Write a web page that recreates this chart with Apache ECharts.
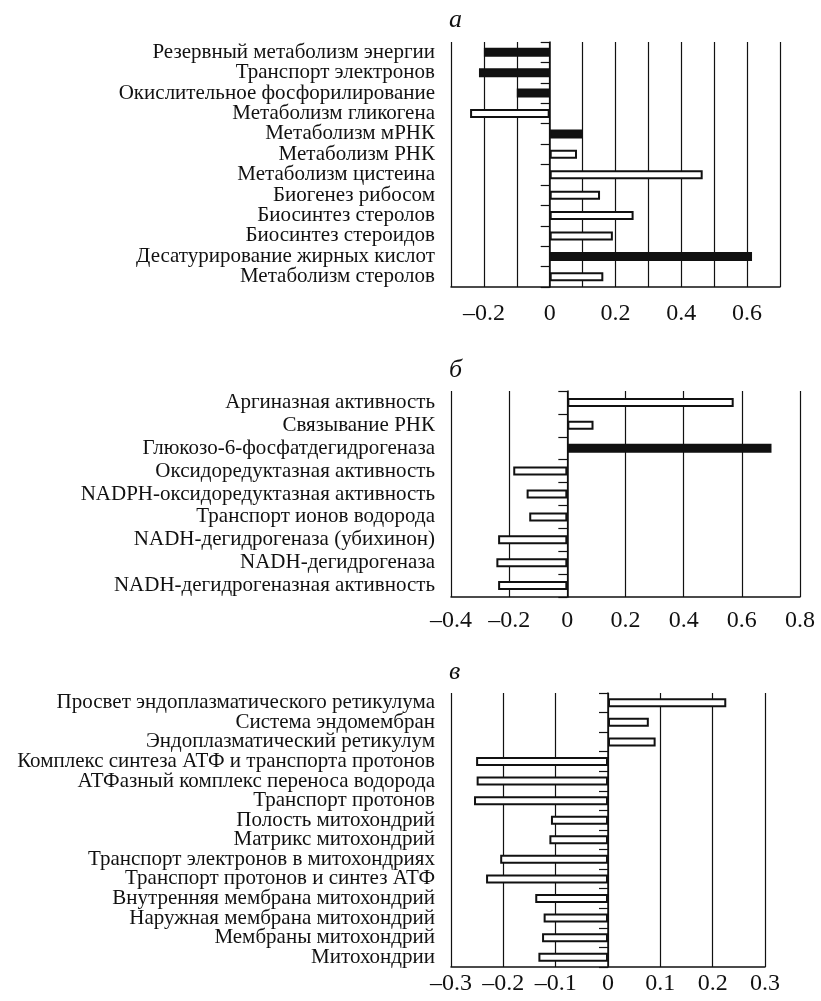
<!DOCTYPE html>
<html>
<head>
<meta charset="utf-8">
<title>Panels a, b, v</title>
<script src="https://cdn.jsdelivr.net/npm/echarts@6/dist/echarts.min.js"></script>
<style>
  html, body { margin: 0; padding: 0; background: #fff; }
  #chart { width: 821px; height: 1001px; }
</style>
</head>
<body>
<div id="chart"></div>
<script>
  // --- данные панели а ---
  var aNames = ['Резервный метаболизм энергии', 'Транспорт электронов', 'Окислительное фосфорилирование',
    'Метаболизм гликогена', 'Метаболизм мРНК', 'Метаболизм РНК', 'Метаболизм цистеина',
    'Биогенез рибосом', 'Биосинтез стеролов', 'Биосинтез стероидов',
    'Десатурирование жирных кислот', 'Метаболизм стеролов'];
  var aValues = [-0.20, -0.215, -0.10, -0.242, 0.10, 0.083, 0.465, 0.153, 0.255, 0.192, 0.615, 0.163];
  var aDark = [1, 1, 1, 0, 1, 0, 0, 0, 0, 0, 1, 0];

  // --- данные панели б ---
  var bNames = ['Аргиназная активность', 'Связывание РНК', 'Глюкозо-6-фосфатдегидрогеназа',
    'Оксидоредуктазная активность', 'NADPH-оксидоредуктазная активность', 'Транспорт ионов водорода',
    'NADH-дегидрогеназа (убихинон)', 'NADH-дегидрогеназа', 'NADH-дегидрогеназная активность'];
  var bValues = [0.572, 0.09, 0.702, -0.186, -0.14, -0.131, -0.238, -0.244, -0.238];
  var bDark = [0, 0, 1, 0, 0, 0, 0, 0, 0];

  // --- данные панели в ---
  var cNames = ['Просвет эндоплазматического ретикулума', 'Система эндомембран', 'Эндоплазматический ретикулум',
    'Комплекс синтеза АТФ и транспорта протонов', 'АТФазный комплекс переноса водорода', 'Транспорт протонов',
    'Полость митохондрий', 'Матрикс митохондрий', 'Транспорт электронов в митохондриях',
    'Транспорт протонов и синтез АТФ', 'Внутренняя мембрана митохондрий', 'Наружная мембрана митохондрий',
    'Мембраны митохондрий', 'Митохондрии'];
  var cValues = [0.226, 0.078, 0.091, -0.252, -0.251, -0.256, -0.109, -0.112, -0.206, -0.233, -0.139, -0.123, -0.126, -0.133];
  var cDark = [0, 0, 0, 0, 0, 0, 0, 0, 0, 0, 0, 0, 0, 0];

  var serif = '"Liberation Serif", "DejaVu Serif", serif';

  function fmt(v, everyOther) {
    var k = Math.round(v * 10);
    if (everyOther && k % 2 !== 0) return '';
    if (k === 0) return '0';
    return (k / 10).toFixed(1).replace('-', '\u2013');
  }

  function barData(vals, dark) {
    return vals.map(function (v, i) {
      return { value: v, itemStyle: { color: dark[i] ? '#111' : '#fff' } };
    });
  }

  var grids = [
    { left: 451, top: 42, width: 329, height: 245 },
    { left: 451, top: 391, width: 349, height: 206 },
    { left: 451, top: 693, width: 314, height: 274 }
  ];
  var axes = [
    { min: -0.3, max: 0.7, interval: 0.1, skip: true, margin: 15 },
    { min: -0.4, max: 0.8, interval: 0.2, skip: false, margin: 12 },
    { min: -0.3, max: 0.3, interval: 0.1, skip: false, margin: 5 }
  ];
  var names = [aNames, bNames, cNames];
  var vals = [aValues, bValues, cValues];
  var dark = [aDark, bDark, cDark];
  var titles = ['а', 'б', 'в'];
  var titleTops = [2, 352, 654];

  var xAxis = [], yAxis = [], series = [], title = [];
  for (var g = 0; g < 3; g++) {
    (function (g) {
      var ax = axes[g];
      xAxis.push({
        type: 'value', gridIndex: g, min: ax.min, max: ax.max, interval: ax.interval,
        axisLine: { show: true, onZero: false, lineStyle: { color: '#111', width: 1.5 } },
        axisTick: { show: false },
        splitLine: { show: true, lineStyle: { color: '#111', width: 1.2 } },
        axisLabel: {
          margin: ax.margin, color: '#111', fontFamily: serif, fontSize: 24,
          formatter: function (v) { return fmt(v, ax.skip); }
        }
      });
      // подписи категорий слева
      yAxis.push({
        type: 'category', gridIndex: g, data: names[g], inverse: true,
        axisLine: { show: false, onZero: false },
        axisTick: { show: false },
        axisLabel: { interval: 0, margin: 16, color: '#111', fontFamily: serif, fontSize: 21 }
      });
      // ось на нуле с засечками
      yAxis.push({
        type: 'category', gridIndex: g, position: 'left', data: names[g], inverse: true,
        axisLine: { show: true, onZero: true, lineStyle: { color: '#111', width: 1.5 } },
        axisTick: { show: true, interval: 0, length: 9, lineStyle: { color: '#111', width: 1.2 } },
        axisLabel: { show: false, interval: 0 }
      });
      series.push({
        type: 'bar', xAxisIndex: g, yAxisIndex: g * 2, barWidth: 9,
        data: barData(vals[g], dark[g]),
        itemStyle: { borderColor: '#111', borderWidth: 2 },
        silent: true, animation: false
      });
      title.push({
        text: titles[g], left: 444, top: titleTops[g],
        textStyle: { fontFamily: serif, fontStyle: 'italic', fontWeight: 'normal', fontSize: 26, color: '#111' }
      });
    })(g);
  }

  var chart = echarts.init(document.getElementById('chart'));
  chart.setOption({
    animation: false,
    title: title,
    grid: grids,
    xAxis: xAxis,
    yAxis: yAxis,
    series: series
  });
</script>
</body>
</html>
